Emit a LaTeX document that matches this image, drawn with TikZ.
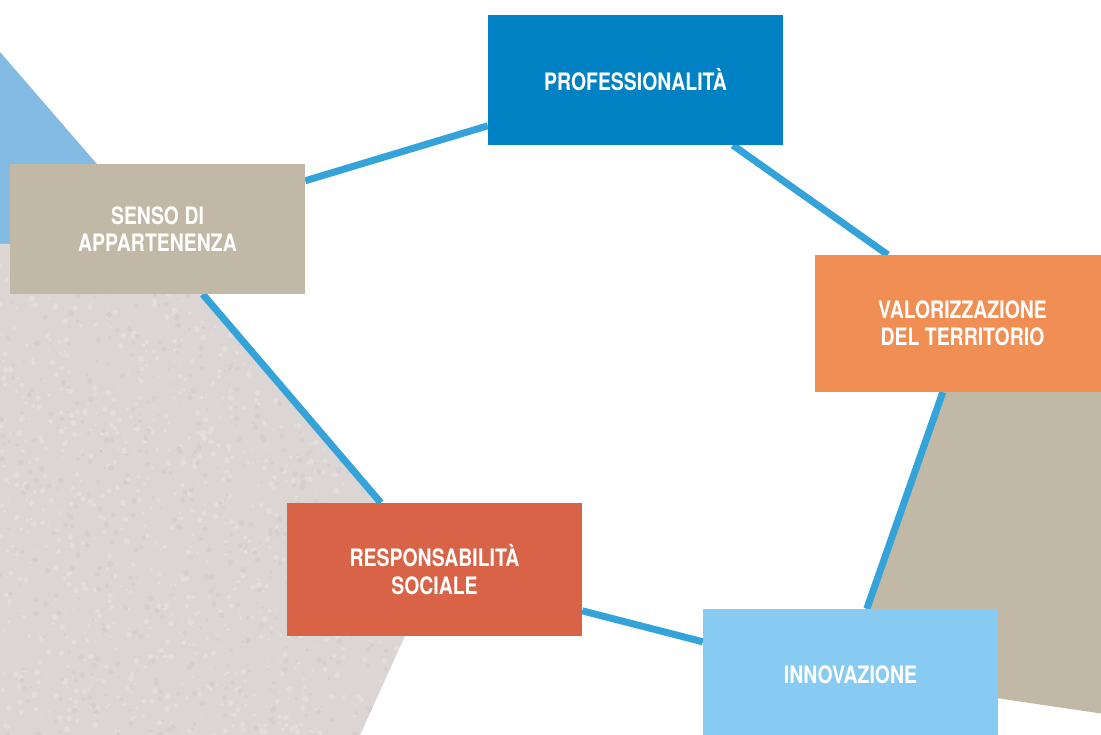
\documentclass[tikz,border=0pt]{standalone}
\usepackage{fontspec}
\newfontfamily\boxfont{TeX Gyre Heros}[FakeStretch=0.81]
\usetikzlibrary{calc}
\pgfdeclarelayer{bg}
\pgfdeclarelayer{links}
\pgfsetlayers{bg,links,main}
\definecolor{profblue}{RGB}{0,129,196}
\definecolor{sensobeige}{RGB}{194,184,166}
\definecolor{valororange}{RGB}{241,142,84}
\definecolor{respred}{RGB}{216,99,71}
\definecolor{innovblue}{RGB}{136,203,242}
\definecolor{linkblue}{RGB}{52,163,217}
\definecolor{triblue}{RGB}{131,187,227}
\definecolor{texgray}{RGB}{219,214,212}
\definecolor{texlight}{RGB}{226,222,220}
\definecolor{texdark}{RGB}{212,207,205}
\definecolor{areabeige}{RGB}{194,184,166}
\begin{document}
\begin{tikzpicture}[x=1pt,y=-1pt,
  box/.style={rectangle, minimum width=295pt, minimum height=130pt, inner sep=0pt,
    align=center, text=white, font=\boxfont\bfseries\fontsize{24}{27.5}\selectfont},
  link/.style={draw=linkblue, line width=7pt}]
\useasboundingbox (0,0) rectangle (1101,735);

% background shapes
\begin{pgfonlayer}{bg}
  \clip (0,0) rectangle (1101,735);
  \fill[white] (0,0) rectangle (1101,735);
  \fill[triblue] (0,52) -- (167,245) -- (0,245) -- cycle;
  \begin{scope}
    \clip (0,244) -- (160,244) -- (435,570) -- (360,735) -- (0,735) -- cycle;
    \fill[texgray] (0,240) rectangle (440,735);
    \pgfmathsetseed{7}
    \foreach \k in {1,...,1200} {
      \pgfmathsetmacro{\px}{rnd*440}
      \pgfmathsetmacro{\py}{240+rnd*495}
      \pgfmathsetmacro{\pr}{1+rnd*2}
      \fill[texlight] (\px,\py) circle[radius=\pr];
    }
    \foreach \k in {1,...,700} {
      \pgfmathsetmacro{\px}{rnd*440}
      \pgfmathsetmacro{\py}{240+rnd*495}
      \pgfmathsetmacro{\pr}{1+rnd*2}
      \fill[texdark] (\px,\py) circle[radius=\pr];
    }
  \end{scope}
  \fill[areabeige] (947,380) -- (1111,380) -- (1111,715) -- (844,675.5) -- cycle;
\end{pgfonlayer}

% boxes
\node[box, fill=profblue, minimum height=130pt] (prof) at (635.5,80) {PROFESSIONALITÀ};
\node[box, fill=sensobeige, minimum height=130pt] (senso) at (157.5,229) {SENSO DI\\APPARTENENZA};
\node[box, fill=valororange, minimum height=137pt] (valor) at (962.5,323.5) {VALORIZZAZIONE\\DEL TERRITORIO};
\node[box, fill=respred, minimum height=133pt] (resp) at (434.5,569.5) {RESPONSABILITÀ\\SOCIALE};
\node[box, fill=innovblue, minimum height=132pt] (innov) at (850.5,675) {INNOVAZIONE};

% connectors
\begin{pgfonlayer}{links}
  \draw[link] ($(senso.north east)+(0,17)$) -- ($(prof.north west)+(0,111)$);
  \draw[link] ($(prof.south west)+(245,0)$) -- ($(valor.north west)+(73,0)$);
  \draw[link] ($(valor.south west)+(128,0)$) -- ($(innov.north west)+(164,0)$);
  \draw[link] ($(innov.north west)+(0,33)$) -- ($(resp.north east)+(0,108)$);
  \draw[link] ($(resp.north west)+(94,0)$) -- ($(senso.south west)+(193,0)$);
\end{pgfonlayer}
\end{tikzpicture}
\end{document}
